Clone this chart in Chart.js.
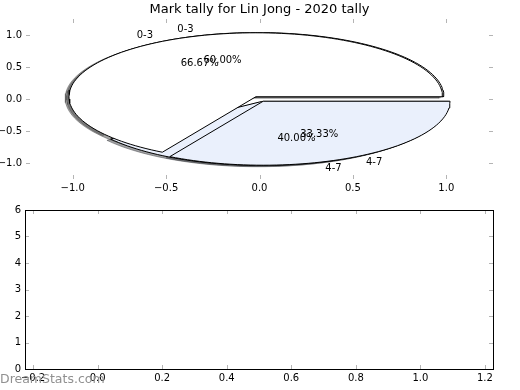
<!DOCTYPE html>
<html>
<head>
<meta charset="utf-8">
<script src="https://cdn.jsdelivr.net/npm/chart.js@4.4.0/dist/chart.umd.min.js"></script>
<style>
  html, body { margin: 0; padding: 0; background: #fff; }
  #wrap { position: relative; width: 520px; height: 390px; overflow: hidden; }
  #wrap canvas { position: absolute; left: 0; }
  #pieChart { top: 0; }
  #emptyChart { top: 195px; }
  #mark { position: absolute; left: 0; top: 371px; font: 12.5px "DejaVu Sans"; color: #909090; white-space: nowrap; }
</style>
</head>
<body>
<div id="wrap">
  <canvas id="pieChart" width="520" height="195"></canvas>
  <canvas id="emptyChart" width="520" height="195"></canvas>
  <div id="mark">DreamStats.com</div>
</div>
<script>
// data
const categories = ['0-3', '4-7'];
const tallyA = [2, 1];   // 66.67% / 33.33%
const tallyB = [3, 2];   // 60.00% / 40.00%
const pieTicks = [-1.0, -0.5, 0.0, 0.5, 1.0];
const emptyXTicks = [-0.2, 0.0, 0.2, 0.4, 0.6, 0.8, 1.0, 1.2];
const emptyYTicks = [0, 1, 2, 3, 4, 5, 6];

const FONT = 'DejaVu Sans';
const wedgeColors = ['#ffffff', '#eaf0fc'];
const shadowColors = ['rgba(77,77,77,0.5)', 'rgba(70,72,76,0.5)'];
const explode = 0.04;

// matplotlib-style pie layout: counter-clockwise from 0 degrees
function pieLayout(values) {
  const total = values.reduce((a, b) => a + b, 0);
  let t1 = 0;
  return values.map((v, i) => {
    const t2 = t1 + v / total * 360;
    const mid = (t1 + t2) / 2 * Math.PI / 180;
    const w = {
      label: categories[i],
      pct: (v / total * 100).toFixed(2) + '%',
      a0: t1, a1: t2, mid: mid,
      cx: explode * Math.cos(mid),
      cy: explode * Math.sin(mid)
    };
    t1 = t2;
    return w;
  });
}

function wedgePoints(w, dx, dy) {
  const cx = w.cx + dx, cy = w.cy + dy;
  const pts = [{ x: cx, y: cy }];
  const n = Math.max(4, Math.ceil((w.a1 - w.a0) / 2));
  for (let i = 0; i <= n; i++) {
    const a = (w.a0 + (w.a1 - w.a0) * i / n) * Math.PI / 180;
    pts.push({ x: cx + Math.cos(a), y: cy + Math.sin(a) });
  }
  pts.push({ x: cx, y: cy });
  return pts;
}

const pieA = pieLayout(tallyA);
const pieB = pieLayout(tallyB);

const datasets = [];
// shadows sit under every wedge
[pieA, pieB].forEach(p => p.forEach((w, i) => {
  datasets.push({
    data: wedgePoints(w, -0.02, -0.02),
    showLine: true, pointRadius: 0, tension: 0,
    borderColor: shadowColors[i], borderWidth: 1,
    backgroundColor: shadowColors[i], fill: 'shape', order: 30
  });
}));
pieB.forEach((w, i) => datasets.push({
  data: wedgePoints(w, 0, 0),
  showLine: true, pointRadius: 0, tension: 0,
  borderColor: '#000', borderWidth: 1,
  backgroundColor: wedgeColors[i], fill: 'shape', order: 20
}));
pieA.forEach((w, i) => datasets.push({
  data: wedgePoints(w, 0, 0),
  showLine: true, pointRadius: 0, tension: 0,
  borderColor: '#000', borderWidth: 1,
  backgroundColor: wedgeColors[i], fill: 'shape', order: 10
}));

function fmt(v) {
  const s = Math.abs(v).toFixed(1);
  return v < 0 ? '\u2212' + s : s;
}

// inward grey tick marks on all four sides, optional frame
const mplAxes = {
  id: 'mplAxes',
  afterDraw(chart, args, opts) {
    const { ctx, chartArea: a, scales } = chart;
    ctx.save();
    ctx.strokeStyle = '#b4b4b4';
    ctx.lineWidth = 1;
    ctx.beginPath();
    scales.x.ticks.forEach(t => {
      const x = Math.round(scales.x.getPixelForValue(t.value)) + 0.5;
      ctx.moveTo(x, a.bottom); ctx.lineTo(x, a.bottom - 4);
      ctx.moveTo(x, a.top); ctx.lineTo(x, a.top + 4);
    });
    scales.y.ticks.forEach(t => {
      const y = Math.round(scales.y.getPixelForValue(t.value)) + 0.5;
      ctx.moveTo(a.left, y); ctx.lineTo(a.left + 4, y);
      ctx.moveTo(a.right, y); ctx.lineTo(a.right - 4, y);
    });
    ctx.stroke();
    if (opts.frame) {
      ctx.strokeStyle = '#000';
      ctx.strokeRect(Math.round(a.left) + 0.5, Math.round(a.top) + 0.5,
        Math.round(a.right - a.left), Math.round(a.bottom - a.top));
    }
    ctx.restore();
  }
};

// pie labels, percentages and the title
const pieText = {
  id: 'pieText',
  afterDatasetsDraw(chart) {
    const { ctx, scales: { x, y }, chartArea: a } = chart;
    ctx.save();
    ctx.fillStyle = '#000';
    ctx.font = '10px "' + FONT + '"';
    ctx.textBaseline = 'middle';
    [pieA, pieB].forEach(p => p.forEach(w => {
      const lx = w.cx + 1.1 * Math.cos(w.mid), ly = w.cy + 1.1 * Math.sin(w.mid);
      ctx.textAlign = lx > 0 ? 'left' : 'right';
      ctx.fillText(w.label, x.getPixelForValue(lx), y.getPixelForValue(ly));
      ctx.textAlign = 'center';
      ctx.fillText(w.pct, x.getPixelForValue(w.cx + 0.6 * Math.cos(w.mid)),
        y.getPixelForValue(w.cy + 0.6 * Math.sin(w.mid)));
    }));
    ctx.font = '13px "' + FONT + '"';
    ctx.textAlign = 'center';
    ctx.fillText('Mark tally for Lin Jong - 2020 tally', (a.left + a.right) / 2, 10);
    ctx.restore();
  }
};

function axis(min, max, ticks, fitSize, pad, isX) {
  return {
    type: 'linear', min: min, max: max,
    afterBuildTicks: s => { s.ticks = ticks.map(v => ({ value: v })); },
    afterFit: s => { if (isX) s.height = fitSize; else s.width = fitSize; },
    grid: { display: false, drawTicks: false },
    border: { display: false },
    ticks: {
      color: '#000', padding: pad, autoSkip: false, maxRotation: 0,
      font: { family: FONT, size: 10 },
      callback: v => fmt(v)
    }
  };
}

Chart.defaults.font.family = FONT;

new Chart(document.getElementById('pieChart'), {
  type: 'scatter',
  data: { datasets: datasets },
  options: {
    responsive: false, animation: false,
    layout: { autoPadding: false, padding: { top: 19, right: 27, left: 0, bottom: 0 } },
    plugins: { legend: { display: false }, tooltip: { enabled: false }, mplAxes: { frame: false } },
    scales: {
      x: axis(-1.25, 1.25, pieTicks, 16, 3, true),
      y: axis(-1.25, 1.25, pieTicks, 26, 4, false)
    }
  },
  plugins: [mplAxes, pieText]
});

const emptyX = axis(-0.225, 1.225, emptyXTicks, 21, 3, true);
const emptyY = axis(0, 6, emptyYTicks, 25, 4, false);
emptyY.ticks.callback = v => String(v);

new Chart(document.getElementById('emptyChart'), {
  type: 'scatter',
  data: { datasets: [{ data: [] }] },
  options: {
    responsive: false, animation: false,
    layout: { autoPadding: false, padding: { top: 15, right: 27, left: 0, bottom: 0 } },
    plugins: { legend: { display: false }, tooltip: { enabled: false }, mplAxes: { frame: true } },
    scales: { x: emptyX, y: emptyY }
  },
  plugins: [mplAxes]
});
</script>
</body>
</html>
